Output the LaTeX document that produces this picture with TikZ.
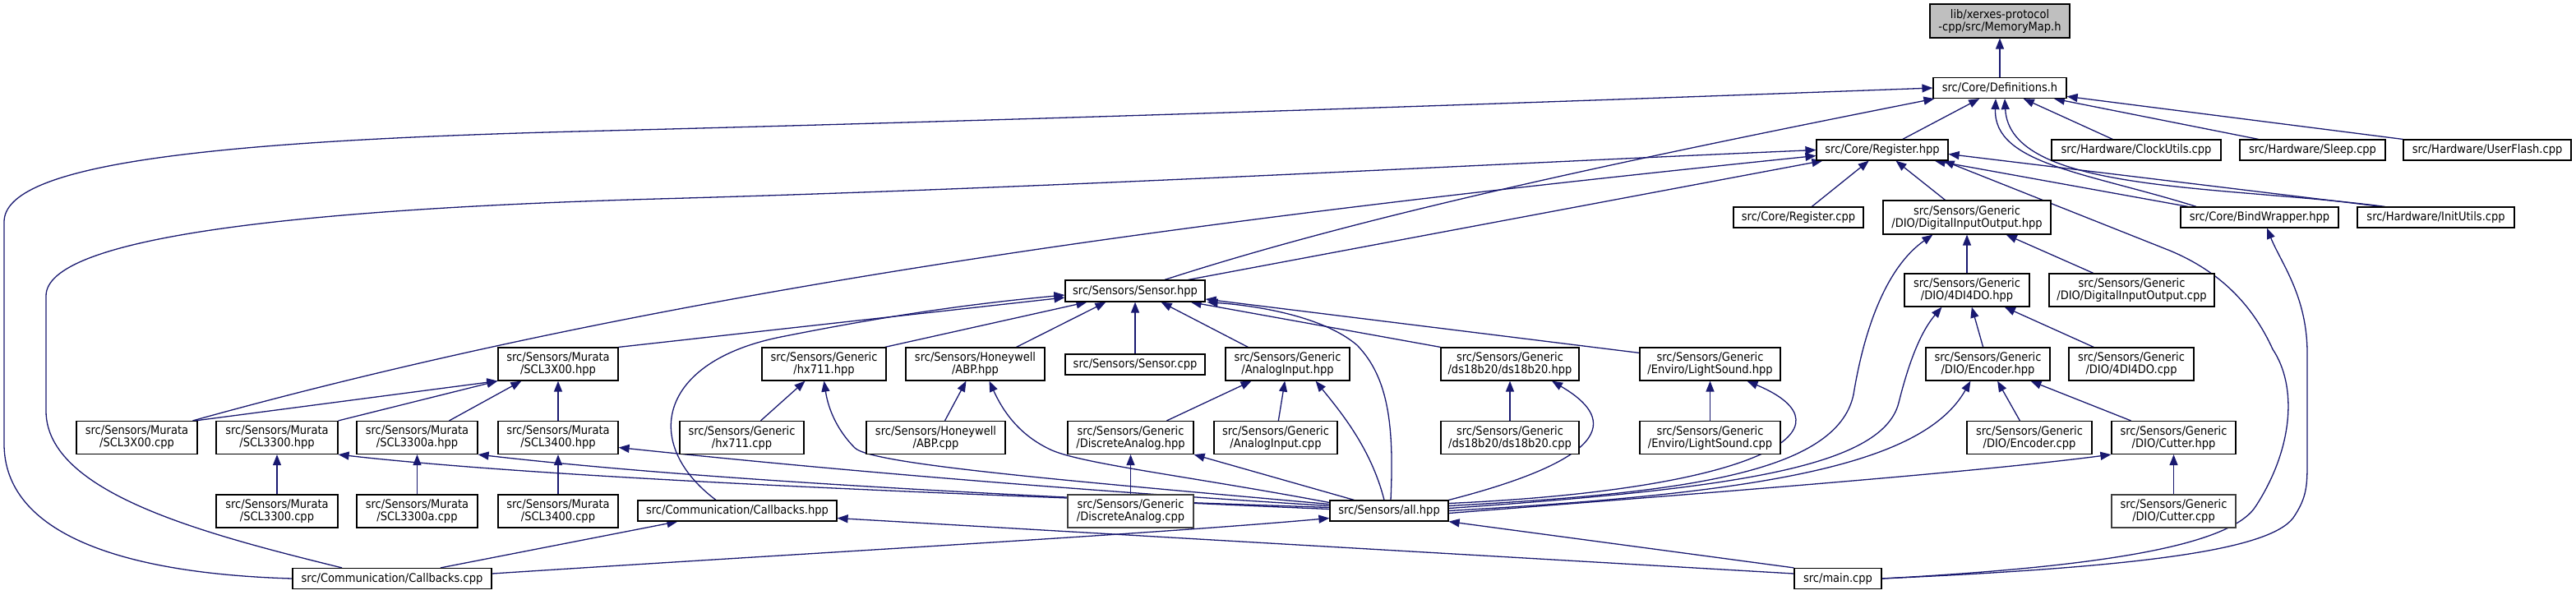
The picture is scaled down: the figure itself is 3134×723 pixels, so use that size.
\documentclass[tikz,border=0pt]{standalone}
\usepackage{fontspec}
\setmainfont{DejaVu Sans Condensed}
\usetikzlibrary{arrows.meta,calc}
\definecolor{edgecol}{HTML}{191970}
\definecolor{rootfill}{HTML}{BFBFBF}
\definecolor{leafborder}{HTML}{404040}
\newcommand\dfont{\fontsize{14.5}{15}\selectfont}
\pgfdeclarelayer{bg}
\pgfsetlayers{bg,main}
\tikzset{
  box/.style={draw=black, line width=1.2pt, fill=white, inner sep=0pt, align=center, font=\dfont},
  one/.style={box, minimum height=25pt, minimum width=#1pt},
  two/.style={box, minimum height=40pt, minimum width=#1pt},
  grayb/.style={draw=leafborder, line width=1.6pt},
  e/.style={draw=edgecol, line width=1.3pt, -{Triangle[length=13pt,width=10pt]}},
}
\begin{document}
\begin{tikzpicture}[x=1pt,y=-1pt]
\useasboundingbox (0,0) rectangle (3134,723);
% row 0-2
\node[two=170, minimum height=41pt, fill=rootfill] (memmap) at (2433,25.5) {lib/xerxes-protocol\\-cpp/src/MemoryMap.h};
\node[one=162] (defs) at (2433,107) {src/Core/Definitions.h};
\node[one=160] (reghpp) at (2290,182.5) {src/Core/Register.hpp};
\node[one=206] (clock) at (2599,182.5) {src/Hardware/ClockUtils.cpp};
\node[one=177] (sleep) at (2813.5,182.5) {src/Hardware/Sleep.cpp};
\node[one=204] (userflash) at (3026,182.5) {src/Hardware/UserFlash.cpp};
% row 3
\node[one=158] (regcpp) at (2188,264.5) {src/Core/Register.cpp};
\node[two=204, minimum height=41pt] (diohpp) at (2393,264.5) {src/Sensors/Generic\\/DIO/DigitalInputOutput.hpp};
\node[one=192] (bind) at (2749,264.5) {src/Core/BindWrapper.hpp};
\node[one=191] (init) at (2963.5,264.5) {src/Hardware/InitUtils.cpp};
% row 4
\node[one=170, minimum height=26pt] (sensor) at (1381,354) {src/Sensors/Sensor.hpp};
\node[two=152] (fourdi) at (2393,353) {src/Sensors/Generic\\/DIO/4DI4DO.hpp};
\node[two=201] (diocpp) at (2593.5,353) {src/Sensors/Generic\\/DIO/DigitalInputOutput.cpp};
% row 5
\node[two=146] (scl3x00hpp) at (679,443) {src/Sensors/Murata\\/SCL3X00.hpp};
\node[two=151] (hx711) at (1002.5,443) {src/Sensors/Generic\\/hx711.hpp};
\node[two=169] (abp) at (1186.5,443) {src/Sensors/Honeywell\\/ABP.hpp};
\node[one=170] (sensorcpp) at (1381,443.5) {src/Sensors/Sensor.cpp};
\node[two=151] (analog) at (1566.5,443) {src/Sensors/Generic\\/AnalogInput.hpp};
\node[two=168] (ds18) at (1837,443) {src/Sensors/Generic\\/ds18b20/ds18b20.hpp};
\node[two=171] (light) at (2080.5,443) {src/Sensors/Generic\\/Enviro/LightSound.hpp};
\node[two=151] (encoder) at (2418.5,443) {src/Sensors/Generic\\/DIO/Encoder.hpp};
\node[two=152] (fourdicpp) at (2593,443) {src/Sensors/Generic\\/DIO/4DI4DO.cpp};
% row 6
\node[two=147] (sclcpp) at (166.5,532.5) {src/Sensors/Murata\\/SCL3X00.cpp};
\node[two=148] (scl3300) at (337,532.5) {src/Sensors/Murata\\/SCL3300.hpp};
\node[two=147] (scl3300a) at (507.5,532.5) {src/Sensors/Murata\\/SCL3300a.hpp};
\node[two=146] (scl3400) at (679,532.5) {src/Sensors/Murata\\/SCL3400.hpp};
\node[two=151] (hx711cpp) at (902.5,532.5) {src/Sensors/Generic\\/hx711.cpp};
\node[two=169] (abpcpp) at (1138.5,532.5) {src/Sensors/Honeywell\\/ABP.cpp};
\node[two=153] (discrete) at (1375.5,532.5) {src/Sensors/Generic\\/DiscreteAnalog.hpp};
\node[two=150] (analogcpp) at (1552,532.5) {src/Sensors/Generic\\/AnalogInput.cpp};
\node[two=168] (ds18cpp) at (1837,532.5) {src/Sensors/Generic\\/ds18b20/ds18b20.cpp};
\node[two=171] (lightcpp) at (2080.5,532.5) {src/Sensors/Generic\\/Enviro/LightSound.cpp};
\node[two=152] (enccpp) at (2469,532.5) {src/Sensors/Generic\\/DIO/Encoder.cpp};
\node[two=151] (cutter) at (2644.5,532.5) {src/Sensors/Generic\\/DIO/Cutter.hpp};
% row 7
\node[two=148] (scl3300cpp) at (337,622) {src/Sensors/Murata\\/SCL3300.cpp};
\node[two=147] (scl3300acpp) at (507.5,622) {src/Sensors/Murata\\/SCL3300a.cpp};
\node[two=146] (scl3400cpp) at (679,622) {src/Sensors/Murata\\/SCL3400.cpp};
\node[one=242] (callbackshpp) at (897,621.5) {src/Communication/Callbacks.hpp};
\node[two=153, grayb] (discretecpp) at (1375.5,622) {src/Sensors/Generic\\/DiscreteAnalog.cpp};
\node[one=144] (all) at (1690,621.5) {src/Sensors/all.hpp};
\node[two=151, grayb] (cuttercpp) at (2644.5,622) {src/Sensors/Generic\\/DIO/Cutter.cpp};
% row 8
\node[one=242] (callbackscpp) at (477,704) {src/Communication/Callbacks.cpp};
\node[one=106] (main) at (2236,704) {src/main.cpp};

\begin{pgfonlayer}{bg}
% ---- edges to MemoryMap / Definitions
\draw[e] (defs) -- (memmap);
\draw[e] (reghpp) -- (defs);
\draw[e] (clock) -- (defs);
\draw[e] (sleep) -- (defs);
\draw[e] (userflash) -- (defs);
\draw[e] ($(bind.north)+(-77,0)$) .. controls (2540,210) and (2425,200) .. ($(defs.south)+(-5,0)$);
\draw[e] ($(init.north)+(-62,0)$) .. controls (2700,225) and (2445,235) .. ($(defs.south)+(6,0)$);
\draw[e] (callbackscpp.west) .. controls (150,698) and (5,650) .. (5,540) -- (5,270) .. controls (5,200) and (250,172) .. (700,160) .. controls (1400,142) and (2000,120) .. (defs.west);
\draw[e] ($(sensor.north)+(36,0)$) .. controls (1650,265) and (1950,200) .. ($(defs.south west)+(2,0)$);
% ---- edges to Register.hpp
\draw[e] ($(callbackscpp.north)+(-61,0)$) .. controls (250,650) and (56,600) .. (56,500) -- (56,360) .. controls (56,290) and (350,255) .. (800,242) .. controls (1300,228) and (1800,200) .. (reghpp.west);
\draw[e] ($(sensor.north east)+(-21,0)$) -- ($(reghpp.south west)+(8,0)$);
\draw[e] ($(sclcpp.north)+(68,0)$) .. controls (835,345) and (1505,262) .. ($(reghpp.west)+(0,7)$);
\draw[e] (regcpp) -- (reghpp);
\draw[e] (diohpp) -- (reghpp);
\draw[e] ($(bind.north)+(-87,0)$) -- ($(reghpp.south east)+(-17,0)$);
\draw[e] ($(init.north)+(-66,0)$) -- ($(reghpp.east)+(0,5)$);
\draw[e] (main.east) .. controls (2550,690) and (2715,665) .. (2745,615) .. controls (2790,545) and (2795,470) .. (2765,425) .. controls (2740,370) and (2700,330) .. (2640,305) -- ($(reghpp.south east)+(-6,0)$);
\draw[e] (main.east) .. controls (2600,690) and (2760,670) .. (2790,630) .. controls (2807,605) and (2807,590) .. (2807,560) -- (2807,430) .. controls (2807,360) and (2775,320) .. ($(bind.south)+(9,0)$);
% ---- DIO family
\draw[e] (fourdi) -- (diohpp);
\draw[e] (diocpp) -- (diohpp);
\draw[e] ($(all.east)+(0,-6)$) .. controls (2050,600) and (2235,575) .. (2255,480) .. controls (2268,400) and (2295,325) .. ($(diohpp.south west)+(61,0)$);
\draw[e] (encoder) -- (fourdi);
\draw[e] (fourdicpp) -- (fourdi);
\draw[e] ($(all.east)+(0,-3)$) .. controls (2100,595) and (2290,570) .. (2310,490) .. controls (2325,430) and (2340,400) .. ($(fourdi.south west)+(46,0)$);
\draw[e] (enccpp) -- (encoder);
\draw[e] (cutter) -- (encoder);
\draw[e] (all.east) .. controls (2150,600) and (2340,565) .. ($(encoder.south west)+(55,0)$);
\draw[e] (cuttercpp) -- (cutter);
\draw[e] ($(all.east)+(0,3)$) .. controls (2100,598) and (2400,575) .. (cutter.south west);
% ---- Sensor.hpp
\draw[e] (scl3x00hpp.north east) -- ($(sensor.west)+(0,8)$);
\draw[e] ($(hx711.north east)+(-2,0)$) -- ($(sensor.south west)+(27,0)$);
\draw[e] ($(abp.north)+(50,0)$) -- ($(sensor.south west)+(50,0)$);
\draw[e] (sensorcpp) -- (sensor);
\draw[e] ($(analog.north west)+(28,0)$) -- ($(sensor.south east)+(-54,0)$);
\draw[e] (ds18.north west) -- ($(sensor.south east)+(-18,0)$);
\draw[e] ($(light.north west)+(0,7)$) -- ($(sensor.east)+(0,10)$);
\draw[e] ($(callbackshpp.north)+(-26,0)$) .. controls (780,540) and (800,440) .. (950,410) .. controls (1100,380) and (1200,368) .. ($(sensor.west)+(0,5)$);
\draw[e] ($(all.north)+(2,0)$) .. controls (1696,520) and (1690,460) .. (1651,420) .. controls (1610,385) and (1530,372) .. ($(sensor.south east)+(2,0)$);
% ---- Murata
\draw[e] ($(sclcpp.north east)+(-3,0)$) -- (scl3x00hpp.south west);
\draw[e] (scl3300.north east) -- (scl3x00hpp.south west);
\draw[e] ($(scl3300a.north)+(39,0)$) -- ($(scl3x00hpp.south west)+(29,0)$);
\draw[e] (scl3400) -- (scl3x00hpp);
\draw[e] (scl3300cpp) -- (scl3300);
\draw[e] (scl3300acpp) -- (scl3300a);
\draw[e] (scl3400cpp) -- (scl3400);
\draw[e] ($(all.west)+(0,-4)$) .. controls (1100,600) and (650,580) .. (scl3300.south east);
\draw[e] ($(all.west)+(0,-2)$) .. controls (1100,598) and (800,578) .. (scl3300a.south east);
\draw[e] ($(all.west)+(0,-6)$) .. controls (1200,590) and (900,560) .. ($(scl3400.east)+(0,12)$);
% ---- hx711, ABP, analog
\draw[e] (hx711cpp) -- (hx711);
\draw[e] ($(all.west)+(0,-8)$) .. controls (1300,585) and (1060,565) .. (1040,545) .. controls (1020,525) and (1008,500) .. (hx711.south);
\draw[e] (abpcpp) -- (abp);
\draw[e] ($(all.west)+(0,-10)$) .. controls (1450,580) and (1320,565) .. (1280,548) .. controls (1240,530) and (1220,500) .. ($(abp.south)+(17,0)$);
\draw[e] (discrete) -- (analog);
\draw[e] (analogcpp) -- (analog);
\draw[e] ($(all.north)+(-6,0)$) .. controls (1668,545) and (1630,500) .. ($(analog.south east)+(-42,0)$);
\draw[e] (discretecpp) -- (discrete);
\draw[e] ($(all.north west)+(30,0)$) -- (discrete.south east);
% ---- ds18b20, LightSound
\draw[e] (ds18cpp) -- (ds18);
\draw[e] (all.north east) .. controls (1990,550) and (1950,500) .. ($(ds18.south)+(51,0)$);
\draw[e] (lightcpp) -- (light);
\draw[e] ($(all.east)+(0,-9)$) .. controls (2150,595) and (2260,520) .. ($(light.south)+(45,0)$);
% ---- Callbacks, all, main
\draw[e] ($(callbackscpp.north)+(59,0)$) -- ($(callbackshpp.south west)+(49,0)$);
\draw[e] ($(main.west)+(0,-6)$) -- ($(callbackshpp.east)+(0,9)$);
\draw[e] ($(callbackscpp.east)+(0,-6)$) .. controls (1000,672) and (1400,650) .. ($(all.west)+(0,9)$);
\draw[e] (main.north west) -- (all.south east);
\end{pgfonlayer}
\end{tikzpicture}
\end{document}
